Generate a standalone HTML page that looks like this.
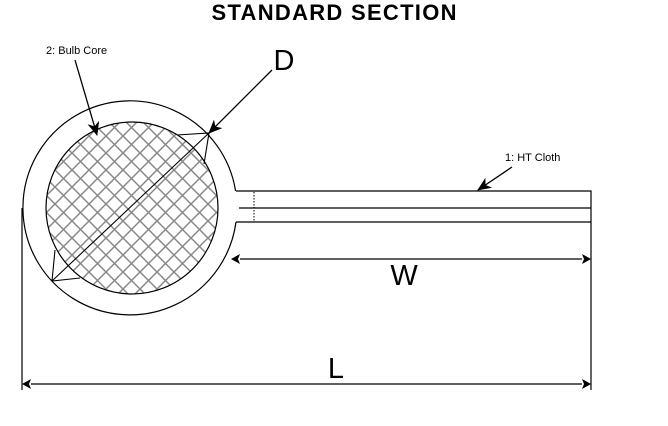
<!DOCTYPE html>
<html><head><meta charset="utf-8"><style>
html,body{margin:0;padding:0;background:#fff;}
svg{display:block;}
text{font-family:"Liberation Sans",Arial,sans-serif;}
</style></head><body>
<svg width="668" height="426" viewBox="0 0 668 426" xmlns="http://www.w3.org/2000/svg">
<defs>
<pattern id="h" width="17" height="17" patternUnits="userSpaceOnUse" x="4" y="0">
<path d="M0,0 L17,17 M17,0 L0,17" stroke="#888" stroke-width="1.5"/>
</pattern>
<marker id="a" markerWidth="14" markerHeight="12" refX="13" refY="6" orient="auto" markerUnits="userSpaceOnUse">
<path d="M0,0 L14,6 L0,12 L4,6 Z" fill="#000"/>
</marker>
</defs>
<text x="334" y="20" font-size="22" font-weight="bold" text-anchor="middle" textLength="245">STANDARD SECTION</text>

<path d="M235.6,191 A107,107 0 1 0 236,222" fill="none" stroke="#000" stroke-width="1.2"/>
<circle cx="132" cy="208" r="86" fill="url(#h)" stroke="#000" stroke-width="1.2"/>
<g stroke="#000" stroke-width="1.1" fill="none">
<line x1="52" y1="281" x2="209" y2="133"/>
<polyline points="177,135 209,133 204,164"/>
<polyline points="55,250 52,281 80,278"/>
</g>
<g stroke="#000" stroke-width="1.2" fill="none">
<polyline points="236,191 591,191 591,390"/>
<line x1="239" y1="208" x2="591" y2="208"/>
<line x1="236" y1="222" x2="591" y2="222"/>
<line x1="22" y1="208" x2="22" y2="390"/>
</g>
<line x1="254" y1="192" x2="254" y2="222" stroke="#000" stroke-width="1" stroke-dasharray="1.5,1.5"/>

<g stroke="#000" stroke-width="1.3">
<line x1="75" y1="60" x2="97" y2="135" marker-end="url(#a)"/>
<line x1="272" y1="70" x2="209" y2="133" marker-end="url(#a)"/>
<line x1="512" y1="167" x2="478" y2="190" marker-end="url(#a)"/>
</g>
<g stroke="#000" stroke-width="1.3">
<line x1="240" y1="259" x2="582" y2="259"/>
<line x1="31" y1="384" x2="582" y2="384"/>
</g>
<path d="M231,259 L240,254 L238,259 L240,264 Z M591,259 L582,254 L584,259 L582,264 Z" fill="#000"/>
<path d="M22,384 L31,379 L29,384 L31,389 Z M591,384 L582,379 L584,384 L582,389 Z" fill="#000"/>

<text x="46" y="54" font-size="11">2: Bulb Core</text>
<text x="505" y="161" font-size="11">1: HT Cloth</text>
<text x="284" y="70" font-size="29" text-anchor="middle">D</text>
<text x="404" y="285" font-size="29" text-anchor="middle">W</text>
<text x="336" y="378" font-size="29" text-anchor="middle">L</text>
</svg>
</body></html>
